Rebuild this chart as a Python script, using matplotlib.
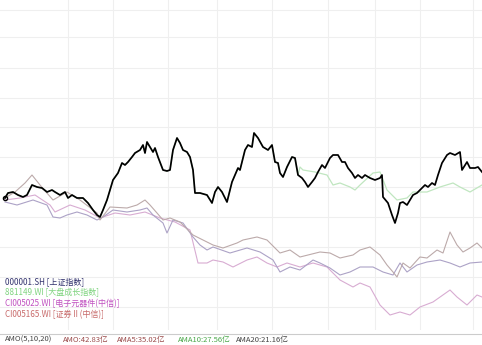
import matplotlib
matplotlib.use("Agg")
import matplotlib.pyplot as plt
from matplotlib.lines import Line2D

plt.rcParams['font.family'] = ['Noto Sans CJK SC', 'DejaVu Sans']

## series: (time step, % change)
sh_t = [5, 8, 13, 18, 23, 27, 32, 37, 42, 47, 52, 55, 60, 65, 68, 72, 77, 83, 88, 93,
        97, 100, 103, 107, 110, 113, 118, 122, 125, 128, 132, 135, 140, 143, 145, 147, 150, 153, 155, 158,
        163, 167, 170, 173, 177, 180, 183, 187, 190, 193, 195, 200, 207, 212, 215, 218, 222, 227, 232, 238,
        240, 245, 248, 252, 254, 258, 263, 268, 272, 275, 278, 280, 283, 287, 292, 295, 298, 302, 305, 308,
        312, 315, 318, 322, 325, 330, 333, 338, 342, 345, 348, 352, 355, 358, 362, 365, 370, 375, 380, 382,
        383, 388, 392, 395, 398, 400, 403, 407, 410, 413, 417, 422, 425, 428, 432, 435, 438, 442, 447, 450,
        455, 460, 462, 467, 470, 475, 478, 482]
sh_v = [-0.3, 0.2, 0.3, 0.0, -0.2, 0.0, 1.0, 0.8, 0.7, 0.3, 0.5, 0.3, 0.0, 0.3, -0.3, 0.0, -0.3, -0.3, -0.8, -1.5,
        -2.0, -2.2, -1.5, -0.5, 0.5, 1.5, 2.2, 3.2, 3.0, 3.3, 3.8, 4.2, 4.5, 5.0, 4.2, 5.3, 4.8, 4.3, 4.7, 3.8,
        2.5, 2.4, 2.5, 4.5, 5.7, 5.2, 4.5, 4.3, 3.8, 2.5, 0.2, 0.2, 0.0, -0.8, 0.3, 0.8, 0.3, -0.7, 1.3, 2.7,
        2.5, 4.5, 5.0, 4.8, 6.2, 5.7, 4.8, 4.5, 5.0, 3.3, 3.2, 2.2, 1.8, 2.8, 3.8, 3.7, 2.0, 1.7, 1.3, 0.8,
        1.3, 1.7, 2.3, 3.0, 2.7, 3.7, 4.0, 4.0, 3.3, 3.3, 2.7, 2.2, 1.7, 2.0, 1.7, 2.0, 1.7, 1.5, 1.7, 2.0,
        -0.2, -0.8, -2.0, -2.8, -1.8, -0.8, -0.7, -1.0, -0.5, 0.0, 0.2, 0.7, 1.0, 0.8, 1.2, 1.0, 2.0, 3.2, 4.0, 4.2,
        4.0, 4.3, 2.5, 3.3, 2.7, 2.7, 2.8, 2.3]

# 881149.WI sits under the black line until ~t=300, then drifts below it
wi_t = [300, 303, 315, 327, 333, 340, 350, 355, 360,
        373, 380, 387, 397, 407, 413, 427, 440, 453, 460, 470, 482]
wi_v = [2.8, 2.5, 2.3, 2.0, 1.0, 1.2, 0.8, 0.5, 1.0,
        2.2, 2.3, 0.5, -0.5, -0.3, 0.3, 0.3, 0.8, 1.2, 0.8, 0.3, 1.0]

a_t = [5, 15, 25, 32, 40, 53, 67, 80, 97, 100, 110, 127, 137, 145, 150, 157, 163, 170, 180, 193,
       213, 223, 237, 243, 257, 267, 280, 290, 300, 320, 330, 340, 353, 360, 370, 380, 387, 393, 397, 403,
       410, 420, 427, 437, 443, 450, 457, 463, 470, 477, 482]
a_v = [-0.3, 0.3, 1.2, 2.0, 1.0, -0.5, 0.3, -0.5, -1.8, -2.5, -1.2, -1.3, -1.0, -0.5, -1.0, -1.8, -2.5, -2.3, -2.7, -4.0,
       -5.0, -5.3, -4.8, -4.5, -4.2, -4.5, -5.8, -5.5, -6.2, -5.7, -5.8, -6.3, -6.0, -5.5, -5.2, -6.0, -7.0, -7.7, -8.2, -6.8,
       -7.3, -6.2, -6.3, -5.5, -5.8, -3.7, -5.0, -5.7, -5.3, -4.8, -5.3]

b_t = [5, 17, 33, 47, 53, 60, 67, 77, 87, 97, 103, 113, 127, 140, 147, 153, 163, 167, 173, 183,
       193, 200, 207, 213, 230, 247, 260, 273, 280, 290, 300, 313, 320, 330, 340, 350, 360, 373, 383, 393,
       400, 407, 417, 427, 440, 450, 460, 470, 482]
b_v = [-0.7, -1.0, -0.5, -1.0, -2.2, -2.3, -2.0, -1.7, -2.0, -2.5, -2.2, -1.5, -1.7, -1.5, -1.3, -2.0, -2.8, -3.8, -2.5, -2.8,
       -4.2, -5.0, -5.5, -5.2, -5.8, -5.3, -5.7, -6.5, -7.7, -7.2, -7.5, -6.5, -6.8, -7.3, -8.0, -7.7, -7.2, -7.2, -7.7, -8.0,
       -6.8, -7.7, -7.0, -6.7, -6.5, -6.8, -7.2, -6.8, -6.7]

c_t = [5, 20, 35, 50, 55, 70, 85, 100, 115, 130, 145, 160, 175, 190, 198, 207, 213, 223, 233, 247,
       257, 267, 277, 287, 300, 313, 327, 340, 353, 360, 370, 380, 390, 400, 410, 420, 433, 450, 457, 467,
       477, 482]
c_v = [-0.5, -0.3, 0.0, -1.0, -1.7, -1.0, -1.5, -2.3, -1.8, -2.0, -1.7, -2.3, -2.7, -3.5, -6.8, -6.8, -6.5, -6.7, -7.2, -6.5,
       -6.2, -6.8, -7.2, -6.8, -7.2, -6.8, -7.2, -8.5, -9.2, -8.8, -9.2, -11.0, -12.0, -11.7, -12.0, -11.2, -10.7, -9.5, -10.2, -11.0,
       -10.0, -10.2]

grid_t = [68, 113, 168, 217, 272, 328, 375, 420, 473]
grid_v = [18.5, 15.8, 12.7, 9.7, 6.8, 3.8, 0.8, -2.2, -5.2, -8.2, -11.2]

legend_names = ["000001.SH [上证指数]", "881149.WI [大盘成长指数]", "CI005025.WI [电子元器件(中信)]", "CI005165.WI [证券Ⅱ(中信)]"]
legend_colors = ["#33336e", "#7fd47f", "#c050c0", "#c86a6a"]

amo_labels = ["AMO(5,10,20)", "AMO:42.83亿", "AMA5:35.02亿", "AMA10:27.56亿", "AMA20:21.16亿"]
amo_colors = ["#444444", "#9a4a4a", "#9a4a4a", "#4aa84a", "#444444"]
amo_x = [5, 63, 117, 178, 236]

fig = plt.figure(figsize=(4.82, 3.45), dpi=100)
fig.patch.set_facecolor("white")
ax = fig.add_axes([0, 15 / 345, 1, 330 / 345])
ax.set_xlim(0, 482)
ax.set_ylim(-13.5, 19.5)
for s in ax.spines.values():
    s.set_visible(False)
ax.set_xticks(grid_t)
ax.set_yticks(grid_v)
ax.tick_params(length=0, labelbottom=False, labelleft=False)
ax.grid(True, color="#efefef", lw=0.8)

ax.plot(c_t, c_v, color="#d8acd2", lw=0.8)
ax.plot(b_t, b_v, color="#aca2c6", lw=0.8)
ax.plot(a_t, a_v, color="#bcaaaa", lw=0.8)
# green runs under the black line until it splits off
green_t = [t for t in sh_t if t < 300] + wi_t
green_v = [v for t, v in zip(sh_t, sh_v) if t < 300] + wi_v
ax.plot(green_t, green_v, color="#c0e6c0", lw=0.9)
ax.plot(sh_t, sh_v, color="black", lw=1.25, marker="o", markevery=[0], ms=3, mfc="none")

for i, (name, col) in enumerate(zip(legend_names, legend_colors)):
    fig.text(5 / 482, (345 - 282 - 11 * i) / 345, name, color=col, fontsize=5.8, va="center")

fig.add_artist(Line2D([0, 1], [11 / 345, 11 / 345], color="#cccccc", lw=0.8))
for lab, col, x in zip(amo_labels, amo_colors, amo_x):
    fig.text(x / 482, 5 / 345, lab, color=col, fontsize=5.5, va="center")

fig.savefig("out.png", dpi=100)
